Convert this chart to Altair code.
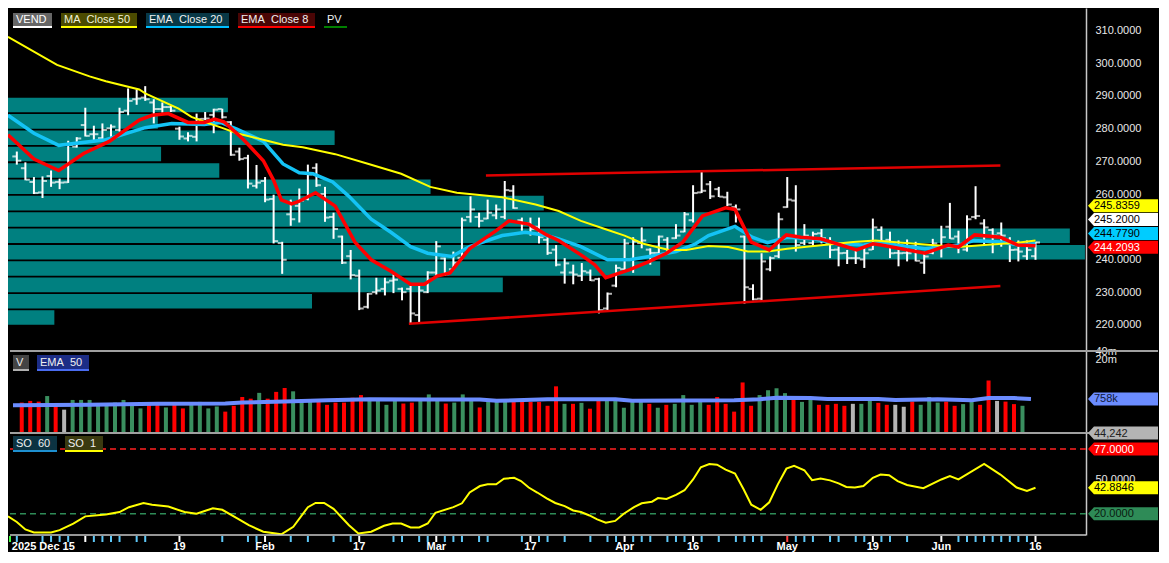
import altair as alt
import pandas as pd

# ======================= DATA =======================
opens = [271.5, 267.9, 263.7, 260.5, 265.5, 263.7, 263.6, 274.5, 281.1, 278.3,
         277.1, 280.1, 279.6, 285.5, 289.0, 289.5, 288.0, 286.0, 286.6, 280.0,
         277.0, 277.5, 283.0, 284.2, 286.0, 282.0, 273.0, 271.0, 262.5, 264.0,
         258.5, 245.0, 253.8, 256.4, 258.5, 268.0, 260.0, 253.0, 247.0, 241.0,
         235.0, 225.5, 230.0, 231.0, 233.5, 231.0, 231.0, 223.0, 230.0, 236.0,
         240.3, 237.0, 240.5, 253.0, 253.0, 252.5, 253.5, 253.0, 261.0, 252.0,
         251.0, 250.0, 246.0, 243.0, 236.0, 236.0, 235.0, 236.0, 234.0, 225.0,
         232.0, 237.0, 240.0, 245.0, 243.0, 242.0, 246.0, 246.5, 248.5, 252.0,
         260.5, 263.0, 261.5, 259.0, 256.0, 247.0, 231.0, 228.0, 237.0, 241.0,
         256.0, 258.0, 245.0, 245.0, 248.0, 245.0, 243.0, 242.0, 240.4, 240.0,
         243.0, 249.0, 246.0, 242.0, 242.0, 244.0, 239.0, 242.0, 244.0, 250.0,
         247.0, 243.0, 253.0, 251.0, 249.0, 248.0, 246.0, 243.0, 241.0, 241.0]
highs = [273.0, 269.7, 265.2, 265.4, 267.2, 264.7, 276.3, 277.4, 286.4, 280.9,
         281.6, 281.3, 286.4, 292.3, 292.0, 293.0, 289.0, 288.0, 287.0, 280.6,
         278.9, 284.6, 285.1, 286.1, 286.1, 282.3, 274.2, 272.0, 268.9, 265.2,
         259.8, 245.4, 258.3, 261.7, 269.0, 269.4, 262.2, 254.3, 247.3, 242.9,
         236.9, 229.7, 234.4, 234.4, 235.4, 231.4, 231.9, 231.9, 236.4, 245.6,
         240.6, 242.4, 252.8, 259.3, 254.3, 258.3, 256.8, 264.0, 262.7, 252.8,
         252.8, 252.8, 247.3, 244.4, 240.4, 238.4, 238.9, 236.9, 234.4, 229.9,
         238.4, 246.3, 246.8, 249.8, 243.4, 247.3, 246.8, 250.8, 254.5, 262.7,
         267.2, 264.0, 262.2, 260.7, 256.8, 247.3, 232.4, 241.9, 240.9, 254.3,
         265.2, 262.7, 250.8, 248.5, 249.3, 246.8, 243.9, 242.9, 243.4, 243.6,
         252.5, 250.1, 248.5, 245.8, 246.1, 245.4, 242.4, 246.3, 250.3, 257.3,
         248.8, 253.5, 262.4, 252.3, 249.5, 251.3, 246.8, 245.8, 245.8, 245.4]
lows = [269.0, 264.2, 260.0, 258.8, 262.2, 261.5, 263.4, 274.2, 277.6, 276.1,
        276.6, 276.9, 279.1, 284.1, 287.3, 288.5, 281.6, 284.9, 285.1, 276.6,
        276.1, 276.1, 282.6, 278.6, 283.1, 271.7, 270.2, 261.7, 261.7, 257.5,
        244.9, 235.6, 250.3, 251.3, 258.1, 262.2, 251.5, 246.3, 238.6, 233.9,
        224.5, 225.0, 229.3, 229.0, 229.7, 227.5, 220.5, 220.5, 229.7, 235.0,
        235.0, 236.9, 239.9, 251.3, 249.8, 252.3, 252.3, 252.3, 255.5, 248.8,
        247.3, 244.9, 241.4, 237.9, 232.6, 232.4, 233.4, 233.4, 223.5, 224.5,
        231.5, 236.4, 235.9, 243.4, 238.4, 240.9, 241.9, 246.3, 248.3, 251.3,
        260.3, 258.5, 259.1, 256.3, 251.3, 226.5, 227.5, 227.5, 236.4, 240.4,
        255.8, 242.4, 244.4, 243.9, 244.9, 240.4, 237.9, 238.6, 238.6, 237.4,
        242.9, 245.2, 240.4, 237.9, 239.4, 239.4, 235.6, 241.6, 240.6, 246.3,
        241.9, 242.4, 252.3, 244.4, 241.9, 243.9, 239.2, 239.4, 239.9, 239.9]
closes = [270.2, 264.4, 260.3, 264.0, 263.5, 263.5, 275.0, 277.0, 277.8, 278.3,
          279.6, 280.6, 285.1, 288.5, 289.2, 289.0, 286.0, 286.6, 285.5, 277.6,
          277.8, 282.9, 283.1, 285.8, 283.5, 272.0, 270.7, 263.2, 263.5, 258.3,
          245.6, 239.9, 252.3, 258.0, 266.0, 262.7, 252.8, 249.3, 239.0, 235.2,
          225.0, 229.5, 230.5, 233.0, 233.8, 230.0, 223.5, 230.5, 236.0, 244.0,
          235.5, 239.0, 252.0, 255.3, 251.8, 254.3, 255.3, 261.2, 255.7, 250.8,
          249.3, 246.8, 242.0, 238.4, 238.8, 235.4, 236.4, 233.6, 224.5, 229.5,
          237.4, 244.9, 245.5, 245.8, 242.0, 247.0, 242.0, 247.3, 253.8, 260.3,
          261.0, 259.3, 259.2, 256.8, 255.3, 231.5, 227.8, 239.4, 240.4, 252.3,
          258.3, 244.4, 247.3, 247.8, 246.5, 242.9, 241.9, 240.4, 240.4, 241.9,
          249.8, 245.4, 241.9, 241.9, 241.9, 239.6, 240.9, 244.9, 246.8, 246.4,
          244.5, 252.3, 253.3, 249.8, 247.3, 247.3, 242.9, 242.4, 242.9, 245.2]
volume_k = [559, 642, 607, 964, 428, 310, 696, 696, 696, 492,
            492, 559, 696, 492, 344, 492, 492, 373, 492, 344,
            492, 593, 344, 405, 263, 428, 889, 774, 1259, 774,
            1365, 1889, 1430, 642, 642, 642, 464, 559, 559, 839,
            1044, 642, 642, 464, 642, 516, 559, 642, 1106, 737,
            516, 559, 1106, 642, 373, 642, 593, 593, 593, 593,
            593, 593, 428, 2168, 504, 504, 547, 336, 642, 642,
            642, 364, 593, 593, 504, 364, 464, 504, 1044, 464,
            593, 464, 889, 504, 263, 2999, 428, 1044, 1567, 1845,
            1229, 696, 593, 756, 464, 464, 504, 428, 504, 504,
            696, 547, 464, 464, 395, 607, 464, 889, 559, 607,
            428, 492, 607, 464, 3527, 642, 607, 492, 428, 46]
vol_dir = list("rrrgrngggg" "gggggrrgrr" "ggggrrrrgr" "rrgggrrrrr"
               "rggggrrggg" "rgggrgggrr" "rrrrgrgrrg" "ggggrgrggg"
               "grrrrrrggg" "grggrrrrng" "grrnnrgggr" "rggrrnrrgg")

ma50_i = [-1.03, 4.7, 8.5, 10.4, 14.3, 15.0, 18.9, 20.4, 21.9, 23.9,
          25.7, 28.0, 29.6, 31.1, 33.4, 37.2, 41.1, 44.9, 48.3, 51.4,
          56.7, 60.6, 63.3, 65.9, 68.7, 71.0, 73.2, 76.2, 78.2, 80.8,
          83.1, 85.4, 87.7, 90.0, 93.1, 97.7, 100.3, 103.4, 106.9, 110.0,
          113.4, 116.9, 119.0]
ma50_v = [308.1, 299.5, 296.0, 294.5, 292.0, 290.8, 286.1, 283.6, 282.1, 280.3,
          278.6, 277.1, 276.1, 275.1, 274.3, 272.2, 269.2, 266.2, 262.2, 260.4,
          259.0, 256.8, 254.8, 251.8, 249.3, 247.3, 244.8, 242.9, 242.9, 244.1,
          243.8, 242.4, 242.4, 243.3, 244.1, 245.3, 245.8, 245.1, 244.4, 243.8,
          244.5, 245.1, 245.8]
ema20_i = [-1.03, 2.0, 4.9, 10.4, 15.0, 18.1, 21.9, 23.8, 25.7, 28.8,
           31.1, 33.0, 34.6, 36.9, 38.8, 41.4, 43.7, 46.0, 48.0, 50.8,
           52.9, 56.7, 59.4, 61.9, 63.3, 65.9, 69.0, 71.6, 73.9, 77.0,
           79.3, 80.8, 83.9, 85.9, 87.7, 90.0, 93.1, 95.8, 98.9, 100.8,
           106.1, 110.0, 111.8, 114.9, 116.9, 119.0]
ema20_v = [284.1, 278.6, 274.9, 276.6, 280.3, 281.6, 281.3, 281.9, 279.9, 276.1,
           269.2, 266.5, 266.2, 263.7, 259.3, 252.3, 248.3, 243.9, 241.9, 240.9,
           243.9, 247.3, 248.3, 247.3, 246.3, 243.9, 239.9, 239.9, 240.9, 242.4,
           244.8, 247.3, 250.1, 246.8, 245.1, 246.8, 246.3, 244.8, 244.4, 245.1,
           243.3, 244.4, 245.8, 245.3, 244.5, 244.8]
ema8_i = [-1.03, 2.0, 4.9, 7.8, 10.8, 14.3, 15.8, 17.7, 20.0, 21.9,
          23.1, 24.2, 26.5, 28.8, 30.0, 30.9, 32.1, 33.0, 34.9, 37.2, 39.5,
          41.4, 43.7, 46.0, 47.6, 49.1, 50.6, 52.9, 56.0, 57.5, 59.8,
          61.9, 63.3, 65.9, 67.5, 68.8, 71.6, 73.9, 75.9, 77.8, 80.1,
          82.8, 83.9, 85.8, 87.9, 89.9, 91.6, 93.9, 98.1, 100.0, 100.8,
          106.1, 108.8, 110.0, 111.9, 114.9, 116.9, 119.0]
ema8_v = [278.1, 270.7, 267.2, 272.4, 276.1, 282.6, 284.1, 284.6, 281.9, 281.9,
          282.9, 282.1, 276.6, 270.2, 264.2, 258.2, 257.0, 257.8, 260.4, 256.3, 245.3,
          239.9, 236.4, 232.4, 232.4, 234.9, 235.9, 243.3, 248.8, 251.8, 250.8,
          247.5, 245.8, 241.4, 238.4, 234.4, 236.9, 239.4, 241.9, 245.3, 253.3,
          255.8, 255.3, 245.3, 242.9, 247.5, 246.8, 246.3, 242.9, 244.8, 244.5,
          241.9, 244.4, 243.8, 247.5, 246.8, 244.4, 244.2]

trend_seg = ["upper", "upper", "lower", "lower"]
trend_i = [54.8, 114.9, 45.8, 114.9]
trend_p = [265.7, 268.7, 220.3, 231.9]

pv_low = [220, 225, 230, 235, 240, 245, 250, 255, 260, 265, 270, 275, 280, 285]
pv_vol = [4.3, 28.2, 45.9, 60.5, 99.9, 98.5, 66.9, 49.7, 39.2, 19.6, 14.2, 30.3, 13.9, 20.4]

volema_i = [-1.03, 8, 16, 24, 26, 31, 36, 41, 48, 54, 56, 62, 70, 72, 84, 87, 89, 93, 95,
            101, 103, 108, 112, 114, 117, 119]
volema_k = [450, 470, 504, 516, 560, 607, 680, 737, 720, 717, 650, 737, 737, 650, 675,
            737, 839, 817, 756, 756, 700, 737, 675, 817, 817, 758]

so_i = [-1.03, 0, 1, 2, 4, 5, 6.6, 8, 10.4, 12,
        13.1, 14.8, 15.8, 17.7, 19.6, 21, 22.9, 24, 25.8, 27.1,
        28.8, 30.9, 32.3, 34, 34.9, 35.9, 37, 38.8, 39.9, 41.4,
        42.9, 43.9, 44.9, 46, 47, 48, 48.9, 51, 52, 52.9,
        54.1, 55, 56, 56.9, 58.1, 58.9, 59.8, 60.8, 61.9, 62.9,
        64, 65, 65.9, 66.9, 67.8, 68.8, 69.9, 70.9, 72.1, 73,
        74.2, 74.9, 75.9, 77, 78, 79, 79.9, 80.9, 81.8, 82.8,
        83.9, 84.9, 85.8, 86.9, 87.9, 88.9, 89.9, 90.8, 92, 92.9,
        93.9, 95, 96, 96.9, 97.9, 98.9, 100, 100.9, 101.9, 102.9,
        104, 105.9, 108, 109, 110, 113, 114.9, 116.8, 118, 119]
so_v = [17.7, 12.8, 6.2, 3.6, 3.6, 5.6, 11.4, 17.7, 19.4, 21.5,
        25.8, 29.5, 28.0, 26.3, 21.5, 20.0, 24.9, 23.5, 15.7, 9.9,
        4.2, 1.9, 8.5, 25.8, 29.5, 29.5, 24.3, 9.9, 2.7, 4.2,
        9.4, 11.4, 11.4, 7.9, 7.9, 11.4, 20.9, 25.8, 29.2, 38.7,
        44.4, 45.9, 45.9, 50.8, 51.7, 48.8, 43.1, 38.7, 33.6, 29.5,
        26.7, 22.9, 21.5, 18.5, 15.1, 12.2, 13.7, 20.0, 25.8, 29.2,
        30.6, 33.8, 33.0, 36.7, 40.7, 50.2, 60.9, 63.8, 63.2, 58.9,
        55.4, 41.6, 28.0, 23.5, 30.1, 45.9, 59.7, 62.3, 58.3, 49.6,
        51.1, 49.4, 46.8, 43.6, 43.1, 44.4, 51.7, 54.5, 53.9, 48.8,
        45.3, 42.5, 50.2, 53.1, 50.2, 63.8, 54.5, 43.1, 40.1, 42.9]
so_levels = [77, 20]

date_i = [0, 19, 29, 40, 49, 60, 71, 79, 90, 100, 108, 119]
date_labels = ["2025 Dec 15", "19", "Feb", "17", "Mar", "17", "Apr", "16", "May", "19", "Jun", "16"]
minor_blue = [0, 3, 4, 5, 6, 9, 10, 11, 12, 14, 15, 24, 27, 28, 32, 34, 37, 39, 44, 45, 47, 48,
              50, 51, 52, 54, 55, 59, 61, 62, 64, 67, 69, 70, 72, 73, 74, 76, 77, 78, 80, 82,
              84, 85, 86, 87, 91, 92, 93, 95, 96, 98, 99, 101, 102, 104, 110, 111, 112, 113,
              114, 115, 116, 117, 118]
minor_white = [8, 19, 29, 40, 49, 60, 71, 79, 100, 108, 119]
minor_red = [90]
minor_green = [-0.8]

# ======================= LAYOUT / STYLE =======================
W = 1078
H1, H2, H3 = 343, 82, 102
FONT = "Liberation Sans"
XDOM = [-1.03, 124.9]
PDOM = [212.0, 316.9]
VDOM = [44.242, 41300]
SDOM = [1.3, 91.1]
TAG = "M -1 0 L -0.83 -0.186 L 1 -0.186 L 1 0.186 L -0.83 0.186 Z"

bars = pd.DataFrame({"i": list(range(len(opens))), "open": opens, "high": highs,
                     "low": lows, "close": closes, "vol": volume_k, "dir": vol_dir})
bars["vbase"] = VDOM[0]
pv_df = pd.DataFrame({"lo": pv_low, "pv": pv_vol})
pv_df["hi"] = pv_df["lo"] + 4.45
pv_df["base"] = 0.0
ma50_df = pd.DataFrame({"i": ma50_i, "v": ma50_v})
ema20_df = pd.DataFrame({"i": ema20_i, "v": ema20_v})
ema8_df = pd.DataFrame({"i": ema8_i, "v": ema8_v})
trend_df = pd.DataFrame({"i": trend_i, "v": trend_p, "seg": trend_seg})
volema_df = pd.DataFrame({"i": volema_i, "v": volema_k})
so_df = pd.DataFrame({"i": so_i, "v": so_v})
lvl_df = pd.DataFrame({"v": so_levels, "c": ["#ff2020", "#2e8b57"]})
tick_df = pd.DataFrame({
    "i": minor_blue + minor_white + minor_red + minor_green,
    "c": (["#5ec8f8"] * len(minor_blue) + ["#ffffff"] * len(minor_white)
          + ["#ff4040"] * len(minor_red) + ["#40ff40"] * len(minor_green)),
})
dates_df = pd.DataFrame({"i": date_i, "label": date_labels})
one = pd.DataFrame({"d": [0]})

xscale = alt.Scale(domain=XDOM, nice=False, zero=False)


def X(field):
    return alt.X(field, type="quantitative", scale=xscale, axis=None)


ystyle = dict(orient="right", ticks=False, domain=True, domainColor="#c8c8c8",
              domainWidth=1.5, labelColor="#e8e8e8", labelFontSize=11, labelFont=FONT,
              labelPadding=9, grid=False, title=None)
pscale = alt.Scale(domain=PDOM, nice=False, zero=False)
paxis = alt.Axis(values=[220, 230, 240, 260, 270, 280, 290, 300, 310], format=".4f", **ystyle)
vscale = alt.Scale(type="log", domain=VDOM, nice=False)
vaxis = alt.Axis(values=[20000, 40000], labelExpr="datum.value / 1000 + 'm'", **ystyle)
sscale = alt.Scale(domain=SDOM, nice=False, zero=False)
saxis = alt.Axis(values=[50], format=".4f", **ystyle)


def legend_box(text, x0, x1, y0, y1, fill, under, tcol):
    bg = alt.Chart(one).mark_rect(color=fill).encode(
        x=alt.value(x0), x2=alt.value(x1), y=alt.value(y0), y2=alt.value(y1))
    ul = alt.Chart(one).mark_rect(color=under).encode(
        x=alt.value(x0), x2=alt.value(x1), y=alt.value(y1), y2=alt.value(y1 + 2))
    tx = alt.Chart(one).mark_text(text=text, align="left", baseline="middle", color=tcol,
                                  fontSize=11, font=FONT).encode(
        x=alt.value(x0 + 3), y=alt.value((y0 + y1) / 2 + 0.5))
    return [bg, ul, tx]


def tag_px(label, y, bg, fg):
    sh = alt.Chart(one).mark_point(shape=TAG, size=4900, filled=True, opacity=1,
                                   strokeWidth=0, color=bg).encode(
        x=alt.value(W + 37), y=alt.value(y))
    tx = alt.Chart(one).mark_text(text=label, align="left", baseline="middle", fontSize=11,
                                  font=FONT, color=fg).encode(
        x=alt.value(W + 8), y=alt.value(y + 0.5))
    return [sh, tx]


def tag_data(df, yenc):
    sh = alt.Chart(df).mark_point(shape=TAG, size=4900, filled=True, opacity=1,
                                  strokeWidth=0).encode(
        x=alt.value(W + 37), y=yenc, color=alt.Color("bg:N", scale=None))
    tx = alt.Chart(df).mark_text(align="left", baseline="middle", fontSize=11, font=FONT,
                                 dy=0.5).encode(
        x=alt.value(W + 8), y=yenc, text="label:N", color=alt.Color("fg:N", scale=None))
    return [sh, tx]


# ======================= PRICE PANEL =======================
pv = alt.Chart(pv_df).mark_rect(color="#008080").encode(
    x=alt.X("base:Q", scale=alt.Scale(domain=[0, 100], nice=False, zero=False), axis=None),
    x2="pv:Q",
    y=alt.Y("lo:Q", scale=pscale, axis=paxis), y2="hi:Q")
hl = alt.Chart(bars).mark_rule(color="white", strokeWidth=2).encode(
    x=X("i"), y=alt.Y("low:Q", scale=pscale, axis=paxis), y2="high:Q")
op = alt.Chart(bars).mark_tick(color="white", orient="horizontal", size=4, thickness=2,
                               xOffset=-2.5).encode(
    x=X("i"), y=alt.Y("open:Q", scale=pscale, axis=paxis))
cl = alt.Chart(bars).mark_tick(color="white", orient="horizontal", size=4, thickness=2,
                               xOffset=2.5).encode(
    x=X("i"), y=alt.Y("close:Q", scale=pscale, axis=paxis))
e20 = alt.Chart(ema20_df).mark_line(color="#14c3f5", strokeWidth=3.5, clip=True).encode(
    x=X("i"), y=alt.Y("v:Q", scale=pscale, axis=paxis))
m50 = alt.Chart(ma50_df).mark_line(color="#ffff00", strokeWidth=2, clip=True).encode(
    x=X("i"), y=alt.Y("v:Q", scale=pscale, axis=paxis))
e8 = alt.Chart(ema8_df).mark_line(color="#ff0000", strokeWidth=3.5, clip=True).encode(
    x=X("i"), y=alt.Y("v:Q", scale=pscale, axis=paxis))
tr = alt.Chart(trend_df).mark_line(color="#e00000", strokeWidth=2.5, clip=True).encode(
    x=X("i"), y=alt.Y("v:Q", scale=pscale, axis=paxis), detail="seg:N")

plegend = (legend_box("VEND", 5, 44, 5, 18, "#666666", "#ffffff", "#ffffff")
           + legend_box("MA\u00a0 Close 50", 53, 129, 5, 18, "#4b4b00", "#ffff00", "#f2f2d8")
           + legend_box("EMA\u00a0 Close 20", 138, 221, 5, 18, "#083846", "#00bfff", "#f0f0f0")
           + legend_box("EMA\u00a0 Close 8", 230, 307, 5, 18, "#4a0505", "#ff0000", "#f0f0f0")
           + legend_box("PV", 316, 339, 5, 18, "#000000", "#008000", "#f0f0f0"))
ptags = (tag_px("245.8359", 197.7, "#ffff00", "#000000")
         + tag_px("245.2000", 211.6, "#ffffff", "#000000")
         + tag_px("244.7790", 225.5, "#00ccff", "#000000")
         + tag_px("244.2093", 239.2, "#ff0000", "#ffffff"))

price = alt.layer(pv, hl, op, cl, e20, m50, e8, tr, *plegend, *ptags).resolve_scale(
    x="independent").properties(width=W, height=H1)

# ======================= VOLUME PANEL =======================
vb = alt.Chart(bars).mark_bar(size=4).encode(
    x=X("i"), y=alt.Y("vol:Q", scale=vscale, axis=vaxis), y2="vbase:Q",
    color=alt.Color("dir:N", scale=alt.Scale(domain=["r", "g", "n"],
                                             range=["#ff0000", "#3a8f5f", "#b4b4b4"]),
                    legend=None))
vema = alt.Chart(volema_df).mark_line(color="#6b8cff", strokeWidth=4, clip=True).encode(
    x=X("i"), y=alt.Y("v:Q", scale=vscale, axis=vaxis))
sep_top = alt.Chart(one).mark_rule(color="#a0a0a0", strokeWidth=2).encode(
    x=alt.value(2), x2=alt.value(W + 72), y=alt.value(0))
sep_bot = alt.Chart(one).mark_rule(color="#a0a0a0", strokeWidth=2).encode(
    x=alt.value(2), x2=alt.value(W + 72), y=alt.value(H2))
vtag_df = pd.DataFrame({"v": [758, VDOM[0]], "label": ["758k", "44,242"],
                        "bg": ["#6b8cff", "#b4b4b4"], "fg": ["#10183a", "#202020"]})
vtags = tag_data(vtag_df, alt.Y("v:Q", scale=vscale, axis=vaxis))
vlegend = (legend_box("V", 5, 21, 4, 18, "#444444", "#b0b0b0", "#f0f0f0")
           + legend_box("EMA\u00a0 50", 29, 81, 4, 18, "#1c2d86", "#4a6cf0", "#f0f0f0"))
volume = alt.layer(vb, vema, sep_top, sep_bot, *vtags, *vlegend).properties(width=W, height=H2)

# ======================= STOCHASTIC PANEL =======================
lv = alt.Chart(lvl_df).mark_rule(strokeDash=[6, 4], strokeWidth=1.5).encode(
    y=alt.Y("v:Q", scale=sscale, axis=saxis), x=alt.value(2), x2=alt.value(W),
    color=alt.Color("c:N", scale=None))
sol = alt.Chart(so_df).mark_line(color="#ffff00", strokeWidth=2, clip=True).encode(
    x=X("i"), y=alt.Y("v:Q", scale=sscale, axis=saxis))
base_line = alt.Chart(one).mark_rule(color="#c8c8c8", strokeWidth=1.5).encode(
    x=alt.value(2), x2=alt.value(W), y=alt.value(H3))
tk = alt.Chart(tick_df).mark_rule(strokeWidth=2).encode(
    x=X("i"), y=alt.value(H3 + 1), y2=alt.value(H3 + 7),
    color=alt.Color("c:N", scale=None))
first_lbl = alt.Chart(dates_df.iloc[:1]).mark_text(
    align="left", baseline="middle", dx=-5, fontSize=11, fontWeight="bold", font=FONT,
    color="white").encode(x=X("i"), y=alt.value(H3 + 12), text="label:N")
other_lbl = alt.Chart(dates_df.iloc[1:]).mark_text(
    align="center", baseline="middle", fontSize=11, fontWeight="bold", font=FONT,
    color="white").encode(x=X("i"), y=alt.value(H3 + 12), text="label:N")
stag_df = pd.DataFrame({"v": [77, 42.8846, 20], "label": ["77.0000", "42.8846", "20.0000"],
                        "bg": ["#ff0000", "#ffff00", "#2e8b57"],
                        "fg": ["#ffffff", "#000000", "#0a1a10"]})
stags = tag_data(stag_df, alt.Y("v:Q", scale=sscale, axis=saxis))
slegend = (legend_box("SO\u00a0 60", 5, 49, 3, 17, "#0c3342", "#1e90d0", "#f0f0f0")
           + legend_box("SO\u00a0 1", 57, 95, 3, 17, "#3a3a10", "#ffff00", "#f0f0f0"))
stoch = alt.layer(lv, sol, base_line, tk, first_lbl, other_lbl, *stags, *slegend).properties(
    width=W, height=H3)

chart = alt.vconcat(price, volume, stoch, spacing=0, bounds="flush").properties(
    padding={"left": 0, "top": 0, "right": 0, "bottom": 0}
).configure(background="black", font=FONT).configure_view(stroke=None)

chart.save("out.html", embed_options={"renderer": "svg", "actions": False})
